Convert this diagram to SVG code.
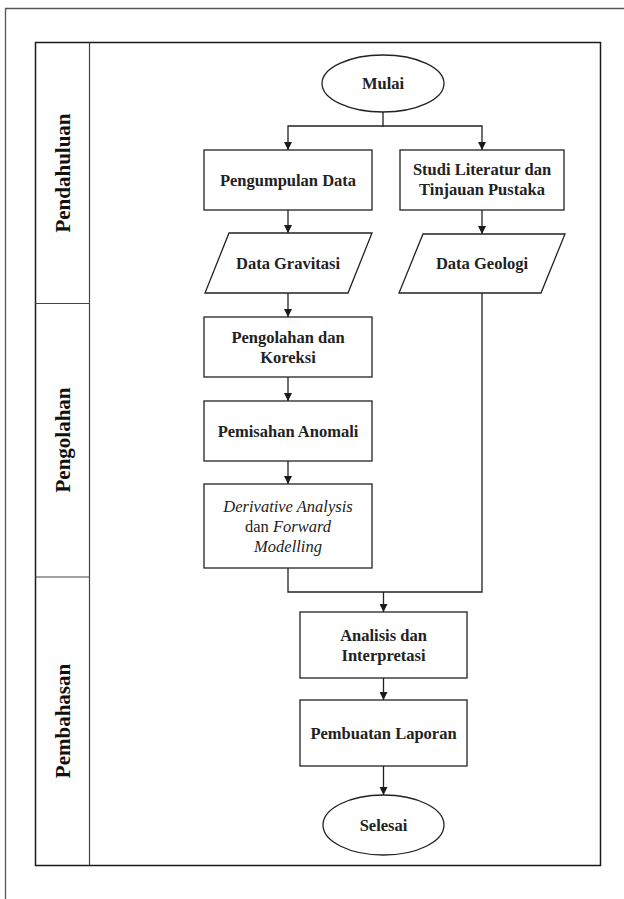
<svg xmlns="http://www.w3.org/2000/svg" width="624" height="899" viewBox="0 0 624 899">
<defs>
<marker id="arr" viewBox="0 0 10 10" refX="10" refY="5" markerWidth="8" markerHeight="8" markerUnits="userSpaceOnUse" orient="auto">
<path d="M0,0 L10,5 L0,10 Z" fill="#1a1a1a"/>
</marker>
<style>
.frame{fill:none;stroke:#1a1a1a;stroke-width:1.5}
.outer{fill:none;stroke:#555;stroke-width:1.3}
.lane{fill:none;stroke:#444;stroke-width:1.2}
.shape{fill:#fff;stroke:#222;stroke-width:1.3}
.conn{fill:none;stroke:#222;stroke-width:1.3}
.t{font-family:"Liberation Serif","Times New Roman",serif;font-size:16.5px;font-weight:bold;fill:#222;text-anchor:middle}
.ti{font-family:"Liberation Serif","Times New Roman",serif;font-size:16.5px;font-style:italic;fill:#222;text-anchor:middle}
.ln{font-family:"Liberation Serif","Times New Roman",serif;font-size:21px;font-weight:bold;fill:#111;text-anchor:middle}
</style>
</defs>
<rect width="624" height="899" fill="#fff"/>
<path class="outer" d="M5.5,899 V8.5 H624"/>
<g id="frame">
<rect class="frame" x="35.5" y="42.5" width="565" height="823"/>
<line class="lane" x1="89.5" y1="42.5" x2="89.5" y2="865.5"/>
<line class="lane" x1="35.5" y1="303.5" x2="89.5" y2="303.5"/>
<line class="lane" x1="35.5" y1="577" x2="89.5" y2="577"/>
</g>
<g id="lane-pendahuluan"><text class="ln" transform="translate(70,173) rotate(-90)">Pendahuluan</text></g>
<g id="lane-pengolahan"><text class="ln" transform="translate(70,440) rotate(-90)">Pengolahan</text></g>
<g id="lane-pembahasan"><text class="ln" transform="translate(70,721) rotate(-90)">Pembahasan</text></g>

<g id="connectors">
<path class="conn" d="M383,112 V126 H288 V150" marker-end="url(#arr)"/>
<path class="conn" d="M383,126 H482 V150" marker-end="url(#arr)"/>
<path class="conn" d="M288,210 V233" marker-end="url(#arr)"/>
<path class="conn" d="M482,210 V234" marker-end="url(#arr)"/>
<path class="conn" d="M288,293 V317" marker-end="url(#arr)"/>
<path class="conn" d="M288,377 V401" marker-end="url(#arr)"/>
<path class="conn" d="M288,461 V484" marker-end="url(#arr)"/>
<path class="conn" d="M288,568 V592 H482 V293"/>
<path class="conn" d="M383.5,592 V612" marker-end="url(#arr)"/>
<path class="conn" d="M383.5,678 V700" marker-end="url(#arr)"/>
<path class="conn" d="M383.5,766 V795" marker-end="url(#arr)"/>
</g>

<g id="mulai">
<ellipse class="shape" cx="383" cy="83.5" rx="61" ry="28.5"/>
<text class="t" x="383" y="89">Mulai</text>
</g>
<g id="pengumpulan">
<rect class="shape" x="204" y="150" width="168" height="60"/>
<text class="t" x="288" y="185.5">Pengumpulan Data</text>
</g>
<g id="studi">
<rect class="shape" x="400" y="150" width="164" height="60"/>
<text class="t" x="482" y="175">Studi Literatur dan</text>
<text class="t" x="482" y="195">Tinjauan Pustaka</text>
</g>
<g id="gravitasi">
<polygon class="shape" points="229,233 372,233 348,293 205,293"/>
<text class="t" x="288" y="268.5">Data Gravitasi</text>
</g>
<g id="geologi">
<polygon class="shape" points="423,234 565,234 541,293 399,293"/>
<text class="t" x="482" y="269">Data Geologi</text>
</g>
<g id="pengolahan">
<rect class="shape" x="204" y="317" width="168" height="60"/>
<text class="t" x="288" y="342.5">Pengolahan dan</text>
<text class="t" x="288" y="362.5">Koreksi</text>
</g>
<g id="pemisahan">
<rect class="shape" x="204" y="401" width="168" height="60"/>
<text class="t" x="288" y="436.5">Pemisahan Anomali</text>
</g>
<g id="derivative">
<rect class="shape" x="204" y="484" width="168" height="84"/>
<text class="ti" x="288" y="511.5">Derivative Analysis</text>
<text class="ti" x="288" y="531.5"><tspan font-style="normal">dan </tspan>Forward</text>
<text class="ti" x="288" y="551.5">Modelling</text>
</g>
<g id="analisis">
<rect class="shape" x="300" y="612" width="167" height="66"/>
<text class="t" x="383.5" y="640.5">Analisis dan</text>
<text class="t" x="383.5" y="660.5">Interpretasi</text>
</g>
<g id="pembuatan">
<rect class="shape" x="300" y="700" width="167" height="66"/>
<text class="t" x="383.5" y="738.5">Pembuatan Laporan</text>
</g>
<g id="selesai">
<ellipse class="shape" cx="383.5" cy="825" rx="60.5" ry="30"/>
<text class="t" x="383.5" y="830.5">Selesai</text>
</g>
</svg>
